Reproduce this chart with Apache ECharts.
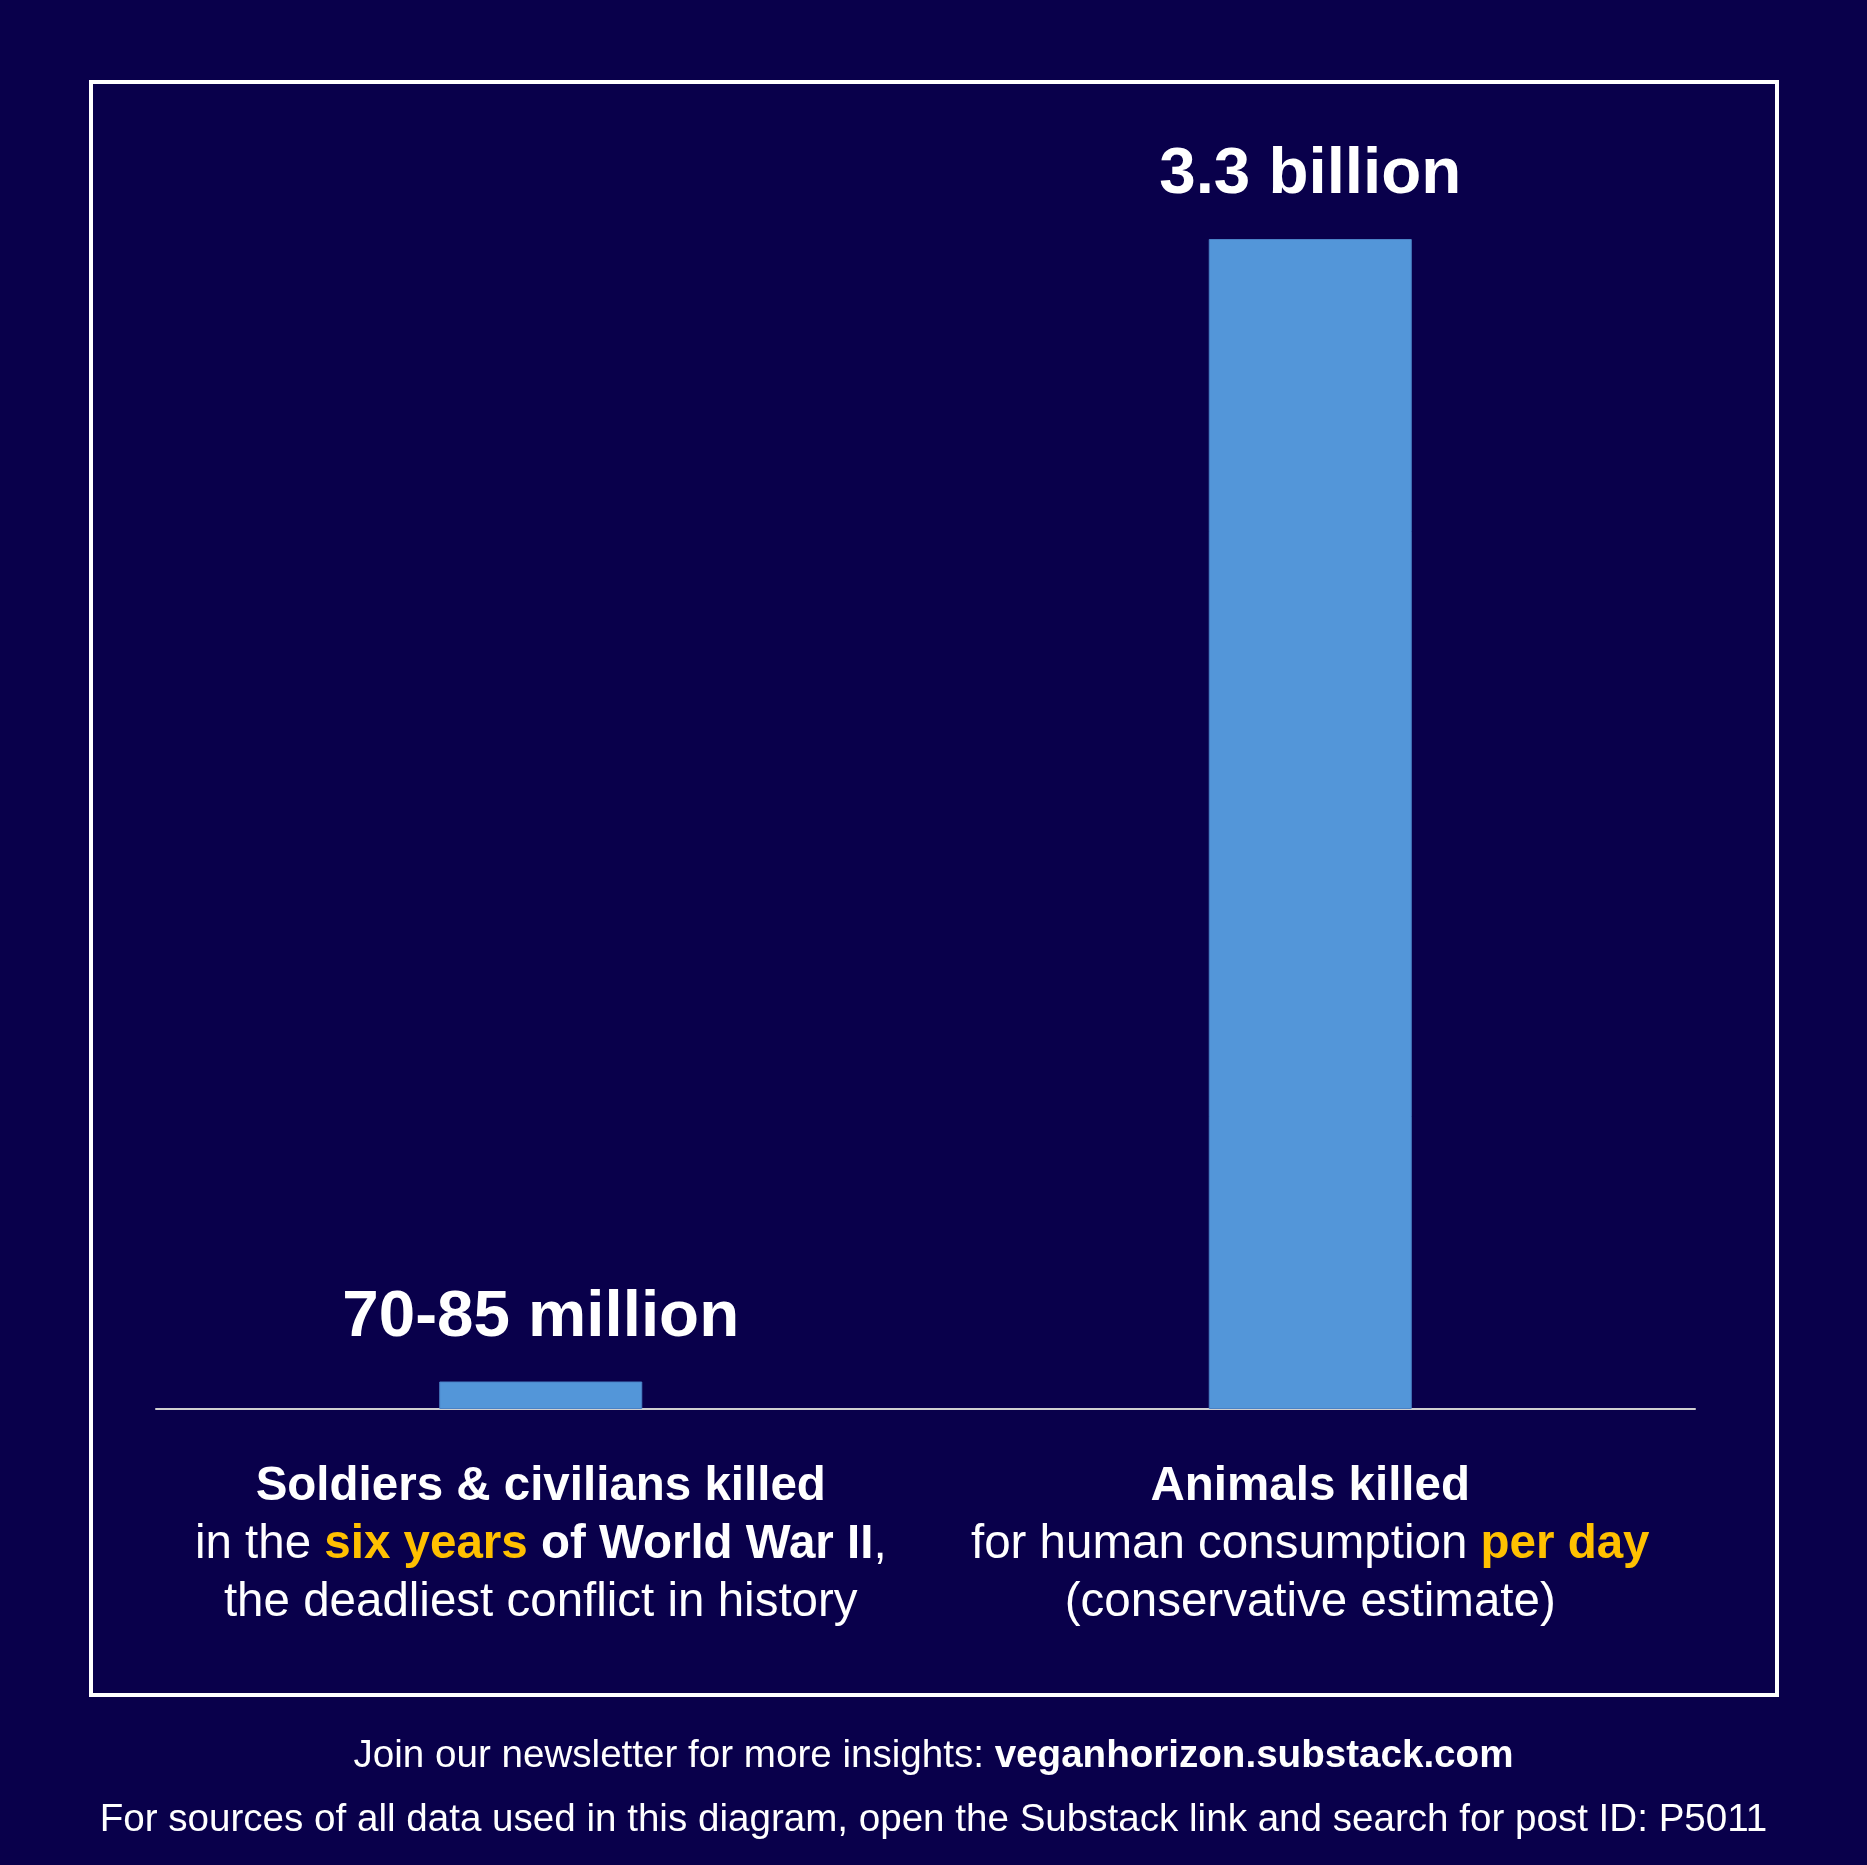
<!DOCTYPE html>
<html>
<head>
<meta charset="utf-8">
<title>Deaths compared</title>
<script src="https://cdn.jsdelivr.net/npm/echarts@6/dist/echarts.min.js"></script>
<style>
  html, body { margin: 0; padding: 0; background: #09004b; }
  #chart { width: 1867px; height: 1865px; }
</style>
</head>
<body>
<div id="chart"></div>
<script>
// values in millions
const categories = ['Soldiers & civilians killed', 'Animals killed'];
const deaths = [77.5, 3300];
const valueLabels = ['70-85 million', '3.3 billion'];
// second and third line of each category label, rich markup
const categoryDetails = [
  '{r|in the }{y|six years}{b| of World War II}{r|,}\n{r|the deadliest conflict in history}',
  '{r|for human consumption }{y|per day}\n{r|(conservative estimate)}',
];
const footerLines = [
  '{r|Join our newsletter for more insights: }{b|veganhorizon.substack.com}',
  '{r|For sources of all data used in this diagram, open the Substack link and search for post ID: P5011}',
];

const FONT = '"Liberation Sans", Arial, Helvetica, sans-serif';
const WHITE = '#ffffff';
const GOLD = '#ffc000';

const labelRich = {
  b: { fontSize: 47.5, fontWeight: 'bold', color: WHITE, lineHeight: 58, fontFamily: FONT },
  r: { fontSize: 47.5, fontWeight: 'normal', color: WHITE, lineHeight: 58, fontFamily: FONT },
  y: { fontSize: 47.5, fontWeight: 'bold', color: GOLD, lineHeight: 58, fontFamily: FONT },
};
const footerRich = {
  b: { fontSize: 38.6, fontWeight: 'bold', color: WHITE, lineHeight: 46, fontFamily: FONT },
  r: { fontSize: 38.6, fontWeight: 'normal', color: WHITE, lineHeight: 46, fontFamily: FONT },
};

const chart = echarts.init(document.getElementById('chart'), null, { renderer: 'canvas' });

chart.setOption({
  backgroundColor: '#09004b',
  animation: false,
  title: footerLines.map((line, i) => ({
    text: line,
    left: 'center',
    top: 1728 + i * 64,
    textStyle: { fontWeight: 'normal', rich: footerRich },
  })),
  graphic: [{
    type: 'rect',
    shape: { x: 91, y: 82, width: 1686, height: 1613 },
    style: { fill: 'none', stroke: WHITE, lineWidth: 4 },
    silent: true,
  }],
  grid: { left: 156, right: 172, top: 239, bottom: 456, containLabel: false },
  xAxis: {
    type: 'category',
    data: categories,
    axisLine: { lineStyle: { color: '#d0d0d0', width: 2 } },
    axisTick: { show: false },
    axisLabel: {
      interval: 0,
      margin: 49,
      formatter(value, index) {
        return `{b|${value}}\n${categoryDetails[index]}`;
      },
      rich: labelRich,
    },
  },
  yAxis: {
    type: 'value',
    min: 0,
    max: 3300,
    show: false,
    splitLine: { show: false },
  },
  series: [{
    type: 'bar',
    data: deaths,
    barWidth: 203,
    itemStyle: { color: '#5396d9', borderColor: '#4a82c6', borderWidth: 1 },
    label: {
      show: true,
      position: 'top',
      distance: 31,
      formatter: (p) => valueLabels[p.dataIndex],
      color: WHITE,
      fontSize: 65.5,
      fontWeight: 'bold',
      fontFamily: FONT,
    },
  }],
});
</script>
</body>
</html>
